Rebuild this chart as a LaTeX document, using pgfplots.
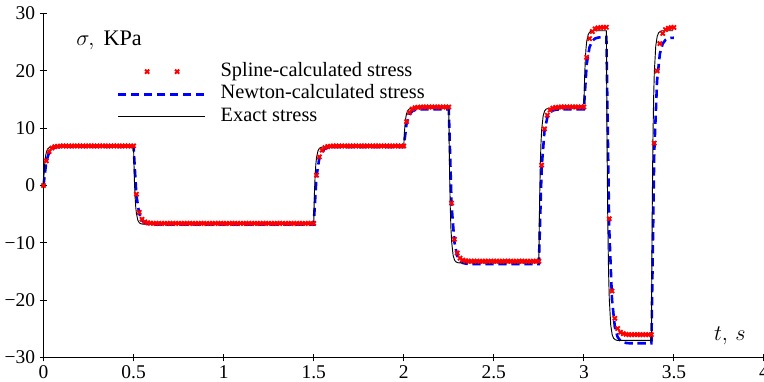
\documentclass[border=0pt]{standalone}
\usepackage{fontspec}
\setmainfont{Liberation Serif}
\usepackage{pgfplots}
\pgfplotsset{compat=1.18}
\begin{document}
\begin{tikzpicture}
\begin{axis}[
  width=389.1pt, height=185.8pt, scale only axis,
  xmin=0, xmax=4, ymin=-30, ymax=30,
  axis lines=left, axis line style={-, line width=0.7pt},
  xtick={0,0.5,1,1.5,2,2.5,3,3.5,4},
  xticklabels={\textrm{0},\textrm{0.5},\textrm{1},\textrm{1.5},\textrm{2},\textrm{2.5},\textrm{3},\textrm{3.5},\textrm{4}},
  ytick={-30,-20,-10,0,10,20,30},
  yticklabels={\textrm{−30},\textrm{−20},\textrm{−10},\textrm{0},\textrm{10},\textrm{20},\textrm{30}},
  tick style={black, line width=0.6pt}, major tick length=4pt,
  tick label style={font=\fontsize{10.5}{12}\selectfont},
  xticklabel style={yshift=1pt},
  yticklabel style={xshift=1pt},
  clip=false,
  legend cell align=left,
  legend style={at={(axis cs:0.405,21.9)}, anchor=north west, draw=none, fill=none,
    inner sep=0pt, font=\fontsize{11}{13}\selectfont,
    nodes={inner ysep=1.5pt, text height=0.7em, text depth=0.22em},
    /tikz/every odd column/.append style={column sep=6pt}},
]
\addplot[only marks, mark=x, red, mark size=1.6pt, mark options={line width=1pt},
  legend image code/.code={\draw[only marks, mark=x] plot coordinates {(0.55cm,0cm) (1.12cm,0cm)};}]
table {
0 0
0.015625 4.30
0.03125 5.92
0.046875 6.53
0.0625 6.76
0.078125 6.85
0.09375 6.88
0.109375 6.9
0.125 6.9
0.140625 6.9
0.15625 6.9
0.171875 6.9
0.1875 6.9
0.203125 6.9
0.21875 6.9
0.234375 6.9
0.25 6.9
0.265625 6.9
0.28125 6.9
0.296875 6.9
0.3125 6.9
0.328125 6.9
0.34375 6.9
0.359375 6.9
0.375 6.9
0.390625 6.9
0.40625 6.9
0.421875 6.9
0.4375 6.9
0.453125 6.9
0.46875 6.9
0.484375 6.9
0.5 6.9
0.515625 -1.51
0.53125 -4.68
0.546875 -5.88
0.5625 -6.33
0.578125 -6.50
0.59375 -6.56
0.609375 -6.59
0.625 -6.6
0.640625 -6.6
0.65625 -6.6
0.671875 -6.6
0.6875 -6.6
0.703125 -6.6
0.71875 -6.6
0.734375 -6.6
0.75 -6.6
0.765625 -6.6
0.78125 -6.6
0.796875 -6.6
0.8125 -6.6
0.828125 -6.6
0.84375 -6.6
0.859375 -6.6
0.875 -6.6
0.890625 -6.6
0.90625 -6.6
0.921875 -6.6
0.9375 -6.6
0.953125 -6.6
0.96875 -6.6
0.984375 -6.6
1 -6.6
1.015625 -6.6
1.03125 -6.6
1.046875 -6.6
1.0625 -6.6
1.078125 -6.6
1.09375 -6.6
1.109375 -6.6
1.125 -6.6
1.140625 -6.6
1.15625 -6.6
1.171875 -6.6
1.1875 -6.6
1.203125 -6.6
1.21875 -6.6
1.234375 -6.6
1.25 -6.6
1.265625 -6.6
1.28125 -6.6
1.296875 -6.6
1.3125 -6.6
1.328125 -6.6
1.34375 -6.6
1.359375 -6.6
1.375 -6.6
1.390625 -6.6
1.40625 -6.6
1.421875 -6.6
1.4375 -6.6
1.453125 -6.6
1.46875 -6.6
1.484375 -6.6
1.5 -6.6
1.515625 1.81
1.53125 4.98
1.546875 6.18
1.5625 6.63
1.578125 6.80
1.59375 6.86
1.609375 6.89
1.625 6.9
1.640625 6.9
1.65625 6.9
1.671875 6.9
1.6875 6.9
1.703125 6.9
1.71875 6.9
1.734375 6.9
1.75 6.9
1.765625 6.9
1.78125 6.9
1.796875 6.9
1.8125 6.9
1.828125 6.9
1.84375 6.9
1.859375 6.9
1.875 6.9
1.890625 6.9
1.90625 6.9
1.921875 6.9
1.9375 6.9
1.953125 6.9
1.96875 6.9
1.984375 6.9
2 6.9
2.015625 11.14
2.03125 12.73
2.046875 13.34
2.0625 13.56
2.078125 13.65
2.09375 13.68
2.109375 13.7
2.125 13.7
2.140625 13.7
2.15625 13.7
2.171875 13.7
2.1875 13.7
2.203125 13.7
2.21875 13.7
2.234375 13.7
2.25 13.7
2.265625 -3.06
2.28125 -9.38
2.296875 -11.77
2.3125 -12.66
2.328125 -13.0
2.34375 -13.12
2.359375 -13.17
2.375 -13.2
2.390625 -13.2
2.40625 -13.2
2.421875 -13.2
2.4375 -13.2
2.453125 -13.2
2.46875 -13.2
2.484375 -13.2
2.5 -13.2
2.515625 -13.2
2.53125 -13.2
2.546875 -13.2
2.5625 -13.2
2.578125 -13.2
2.59375 -13.2
2.609375 -13.2
2.625 -13.2
2.640625 -13.2
2.65625 -13.2
2.671875 -13.2
2.6875 -13.2
2.703125 -13.2
2.71875 -13.2
2.734375 -13.2
2.75 -13.2
2.765625 3.56
2.78125 9.88
2.796875 12.27
2.8125 13.16
2.828125 13.50
2.84375 13.62
2.859375 13.67
2.875 13.7
2.890625 13.7
2.90625 13.7
2.921875 13.7
2.9375 13.7
2.953125 13.7
2.96875 13.7
2.984375 13.7
3 13.7
3.015625 22.36
3.03125 25.63
3.046875 26.86
3.0625 27.32
3.078125 27.49
3.09375 27.56
3.109375 27.59
3.125 27.6
3.140625 -5.79
3.15625 -18.39
3.171875 -23.16
3.1875 -24.93
3.203125 -25.59
3.21875 -25.84
3.234375 -25.95
3.25 -26.0
3.265625 -26.0
3.28125 -26.0
3.296875 -26.0
3.3125 -26.0
3.328125 -26.0
3.34375 -26.0
3.359375 -26.0
3.375 -26.0
3.390625 7.39
3.40625 19.99
3.421875 24.76
3.4375 26.53
3.453125 27.19
3.46875 27.44
3.484375 27.54
3.5 27.57
};
\addlegendentry{Spline-calculated stress}
\addplot[blue, line width=1.4pt, dash pattern=on 4.5pt off 2.5pt,
  legend image code/.code={\draw (0cm,0cm) -- (1.64cm,0cm);}]
table {
0 0
0.015625 4.21
0.03125 5.79
0.046875 6.39
0.0625 6.62
0.078125 6.70
0.09375 6.73
0.109375 6.75
0.5 6.75
0.515625 -1.69
0.53125 -4.88
0.546875 -6.08
0.5625 -6.53
0.578125 -6.70
0.59375 -6.76
0.609375 -6.79
0.625 -6.8
1.5 -6.8
1.515625 1.61
1.53125 4.78
1.546875 5.98
1.5625 6.43
1.578125 6.60
1.59375 6.66
1.609375 6.69
1.625 6.7
2 6.7
2.015625 10.81
2.03125 12.36
2.046875 12.95
2.0625 13.17
2.078125 13.25
2.09375 13.28
2.109375 13.3
2.25 13.3
2.265625 -3.52
2.28125 -9.87
2.296875 -12.27
2.3125 -13.16
2.328125 -13.50
2.34375 -13.62
2.359375 -13.67
2.375 -13.7
2.75 -13.7
2.765625 3.12
2.78125 9.47
2.796875 11.87
2.8125 12.76
2.828125 13.09
2.84375 13.22
2.859375 13.27
2.875 13.3
3 13.3
3.015625 21.15
3.03125 24.11
3.046875 25.23
3.0625 25.65
3.078125 25.80
3.09375 25.86
3.109375 25.89
3.125 25.9
3.140625 -7.37
3.15625 -19.92
3.171875 -24.67
3.1875 -26.43
3.203125 -27.09
3.21875 -27.35
3.234375 -27.45
3.25 -27.5
3.375 -27.5
3.390625 5.71
3.40625 18.23
3.421875 22.98
3.4375 24.73
3.453125 25.39
3.46875 25.65
3.484375 25.75
3.5 25.77
};
\addlegendentry{Newton-calculated stress}
\addplot[black, line width=0.5pt,
  legend image code/.code={\draw (0cm,0cm) -- (1.64cm,0cm);}]
table {
0 0
0.004 2.66
0.008 4.27
0.012 5.24
0.016 5.84
0.024 6.41
0.032 6.63
0.04 6.70
0.05 6.74
0.06 6.75
0.5 6.75
0.504 1.44
0.508 -1.78
0.512 -3.74
0.516 -4.92
0.524 -6.08
0.532 -6.50
0.54 -6.66
0.55 -6.72
0.56 -6.75
1.5 -6.75
1.504 -1.44
1.508 1.78
1.512 3.74
1.516 4.92
1.524 6.08
1.532 6.50
1.54 6.66
1.55 6.72
1.56 6.75
2 6.75
2.004 9.41
2.008 11.02
2.012 11.99
2.016 12.59
2.024 13.16
2.032 13.38
2.04 13.45
2.05 13.49
2.06 13.5
2.25 13.5
2.254 2.88
2.258 -3.57
2.262 -7.48
2.266 -9.85
2.274 -12.16
2.282 -13.01
2.29 -13.32
2.30 -13.45
2.31 -13.5
2.75 -13.5
2.754 -2.88
2.758 3.57
2.762 7.48
2.766 9.85
2.774 12.16
2.782 13.01
2.79 13.32
2.80 13.45
2.81 13.5
3 13.5
3.004 18.81
3.008 22.03
3.012 23.99
3.016 25.17
3.024 26.33
3.032 26.75
3.04 26.91
3.05 26.97
3.06 27
3.125 27
3.129 5.75
3.133 -7.13
3.137 -14.95
3.141 -19.69
3.149 -24.31
3.157 -26.01
3.165 -26.64
3.175 -26.9
3.185 -27
3.375 -27
3.379 -5.75
3.383 7.13
3.387 14.95
3.391 19.69
3.399 24.31
3.407 26.01
3.415 26.64
3.425 26.9
3.435 27
3.495 27
};
\addlegendentry{Exact stress}
\node[font=\large] at (axis cs:0.364,25.3) {$\sigma,\ \mathrm{KPa}$};
\node[font=\large] at (axis cs:3.81,-26.2) {$t,\, s$};
\coordinate (ll) at (rel axis cs:0,0);
\coordinate (ur) at (rel axis cs:1,1);
\end{axis}
\pgfresetboundingbox
\path[use as bounding box] ([xshift=-23.5pt,yshift=-12.7pt]ll) rectangle ([yshift=7.3pt]ur);
\end{tikzpicture}
\end{document}
